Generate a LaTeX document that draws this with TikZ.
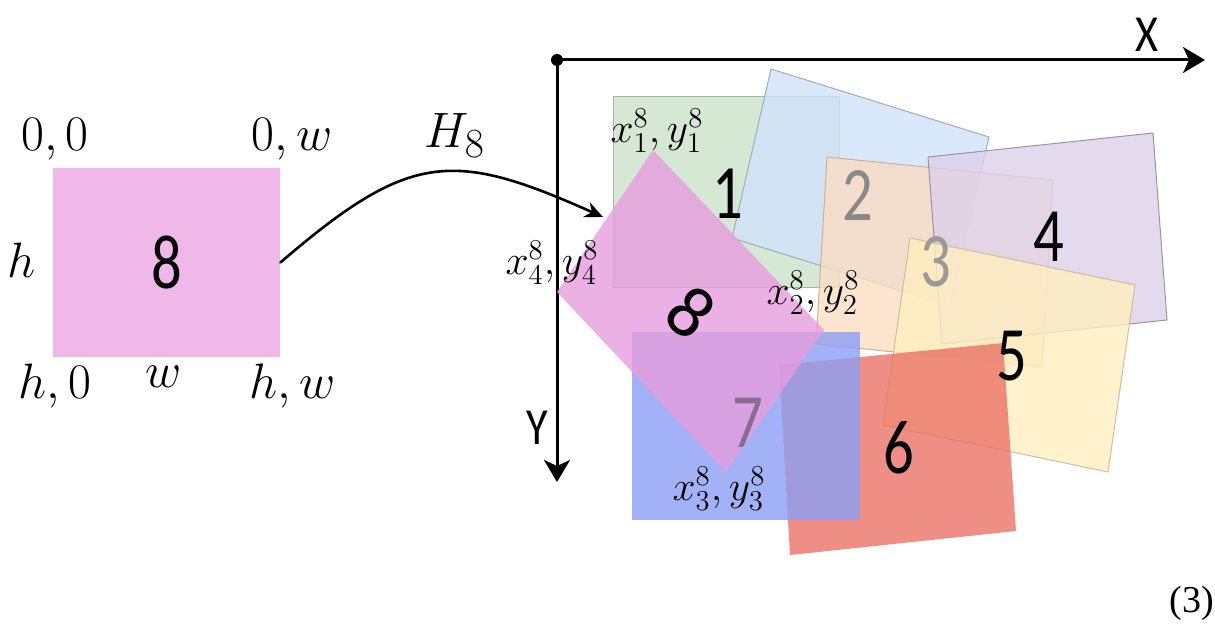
\documentclass[tikz,border=0pt]{standalone}
\usepackage{fontspec}
\newfontfamily\calib{Carlito}
\newfontfamily\timesf{Liberation Serif}
\usetikzlibrary{arrows.meta}
\definecolor{pinkL}{HTML}{EFB8E9}
\definecolor{green1}{HTML}{CAE2C9}
\definecolor{blue2}{HTML}{D1E2FB}
\definecolor{orange3}{HTML}{FBDDC3}
\definecolor{purple4}{HTML}{DDD1EA}
\definecolor{yellow5}{HTML}{FFEFBF}
\definecolor{red6}{HTML}{EA7265}
\definecolor{blue7}{HTML}{8C9FF5}
\definecolor{pink8}{HTML}{E69DDE}
\definecolor{num2}{HTML}{8A8A8A}
\definecolor{num3}{HTML}{9C9A94}
\definecolor{num7}{HTML}{8A6E92}
\begin{document}
\begin{tikzpicture}[x=0.5pt, y=-0.5pt, line join=round, line cap=round,
		tile/.style={fill opacity=0.8, line width=0.5pt},
		numfont/.style={font=\calib\fontsize{37}{37}\selectfont, inner sep=0pt},
		num/.style={numfont, xscale=0.82, yscale=1.04},
		lab/.style={font=\fontsize{21}{21}\selectfont, inner sep=0pt},
		cornerlab/.style={font=\fontsize{25}{25}\selectfont, inner sep=0pt, anchor=base},
		axis/.style={line width=1.5pt, -{Stealth[length=11pt, width=13pt, inset=3pt]}}]
	\useasboundingbox (0,0) rectangle (1215,626);
	% source tile and its corners
	\node[fill=pinkL, minimum width=113.5pt, minimum height=94.5pt, inner sep=0pt] (src) at (166.5,262.5) {};
	\node[num] (s8) at (src) {8};
	\node[cornerlab] (c00) at (55,150) {$0,0$};
	\node[cornerlab] (c0w) at (292,150) {$0,w$};
	\node[cornerlab] (ch) at (22,277) {$h$};
	\node[cornerlab] (cw) at (164,387) {$w$};
	\node[cornerlab] (ch0) at (55,398) {$h,0$};
	\node[cornerlab] (chw) at (293,398) {$h,w$};
	% axes
	\path (557,60) coordinate (O) (1205,60) coordinate (Xend) (557,482) coordinate (Yend);
	\draw[axis] (O) -- (Xend);
	\draw[axis] (O) -- (Yend);
	\fill (O) circle (6);
	\node[font=\calib\fontsize{26}{26}\selectfont, xscale=0.85] (xlab) at (1147,35) {X};
	\node[font=\calib\fontsize{26}{26}\selectfont, xscale=0.85] (ylab) at (537,428) {Y};
	% placed tiles
	\filldraw[tile, fill=green1, draw=green1!80!black] (613,97) rectangle (839,287);
	\filldraw[tile, fill=blue2, draw=blue2!60!black!70] (771,69) -- (989,137) -- (950,306) -- (732,238) -- cycle;
	\filldraw[tile, fill=orange3, draw=orange3!80!black] (827,157) -- (1053,180) -- (1042,367) -- (816,344) -- cycle;
	\filldraw[tile, fill=purple4, draw=purple4!70!black] (928,157) -- (1153,133) -- (1167,320) -- (942,344) -- cycle;
	\filldraw[tile, fill=yellow5, draw=yellow5!80!black] (910,238) -- (1135,285) -- (1108,472) -- (883,425) -- cycle;
	\fill[tile, fill=red6] (779,365) -- (1003,343) -- (1016,531) -- (790,555) -- cycle;
	\fill[tile, fill=blue7] (632,332) rectangle (860,520);
	\path (653,150) coordinate (p1) (824,330) coordinate (p2) (726,472) coordinate (p3) (557,292) coordinate (p4);
	\fill[tile, fill=pink8] (p1) -- (p2) -- (p3) -- (p4) -- cycle;
	\foreach \n/\px/\py/\col in {1/728/194/black, 2/858/196/num2, 3/936/262/num3, 4/1049/237/black,
		5/1012/356/black, 6/899/448/black, 7/748/423/num7}
	{\node[num, text=\col] (n\n) at (\px,\py) {\n};}
	\node[numfont, rotate=-40] (n8) at (691,312) {8};
	% corner labels of tile 8
	\node[lab] (q1) at (657,131) {$x_1^8,y_1^8$};
	\node[lab] (q2) at (813,293) {$x_2^8,y_2^8$};
	\node[lab] (q3) at (719,489) {$x_3^8,y_3^8$};
	\node[lab] (q4) at (552,263) {$x_4^8,y_4^8$};
	% homography arrow
	\coordinate (h8end) at (603,217);
	\draw[line width=1.3pt, -{Stealth[length=9pt, width=8pt]}] (src.east) .. controls (410,151) and (453,150) .. (h8end);
	\node[font=\fontsize{31}{31}\selectfont, anchor=base west, inner sep=0pt] (hlab) at (424,148) {$H_8$};
	\node[font=\timesf\fontsize{19}{19}\selectfont] (eqn) at (1192,603) {(3)};
\end{tikzpicture}
\end{document}
